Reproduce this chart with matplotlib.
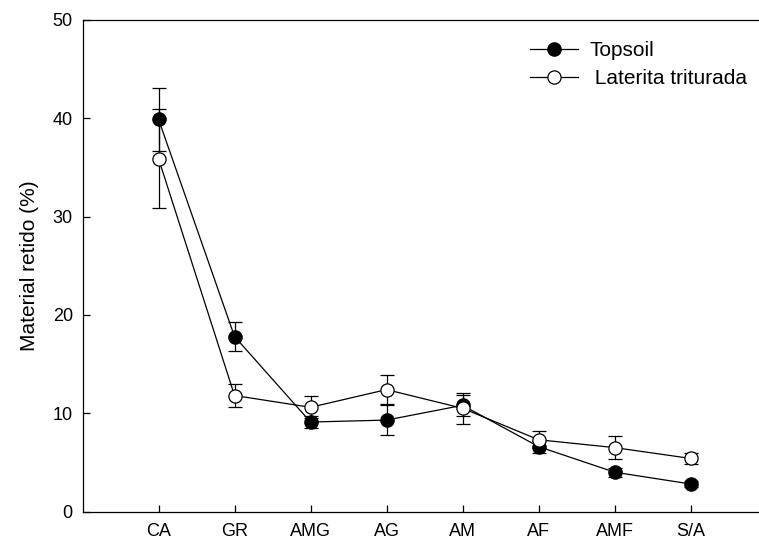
import numpy as np
import matplotlib.pyplot as plt
from matplotlib.lines import Line2D

plt.rcParams['font.family'] = ['Liberation Sans', 'DejaVu Sans']

# Size classes on the x axis
categories = ['CA', 'GR', 'AMG', 'AG', 'AM', 'AF', 'AMF', 'S/A']

# Retained material (%) and error bars
topsoil = [39.9, 17.8, 9.1, 9.3, 10.8, 6.6, 4.0, 2.8]
topsoil_err = [3.2, 1.5, 0.6, 1.5, 1.05, 0.6, 0.45, 0.3]
laterita = [35.9, 11.8, 10.6, 12.4, 10.5, 7.3, 6.5, 5.4]
laterita_err = [5.0, 1.2, 1.1, 1.5, 1.6, 0.85, 1.15, 0.6]

x = np.arange(1, len(categories) + 1)

fig = plt.figure(figsize=(7.59, 5.39), dpi=100)
ax = fig.add_axes([0.1087, 0.051, 0.8913, 0.912])

# Topsoil (filled circles)
ax.errorbar(x, topsoil, yerr=topsoil_err, fmt='-o', color='black',
            mfc='black', mec='black', ms=9.5, lw=0.9, elinewidth=0.9,
            capsize=4.7, capthick=0.9, zorder=3)

# Laterita (open circles)
ax.errorbar(x, laterita, yerr=laterita_err, fmt='-o', color='black',
            mfc='white', mec='black', ms=9.5, mew=0.9, lw=0.9,
            elinewidth=0.9, capsize=4.7, capthick=0.9, zorder=4)

ax.set_xlim(0, 8.9)
ax.set_ylim(0, 50)
ax.set_xticks(x)
ax.set_xticklabels(categories)
ax.set_yticks(np.arange(0, 51, 10))

ax.tick_params(axis='both', direction='in', length=5, width=0.9,
               labelsize=13)
ax.tick_params(axis='x', pad=8)
ax.tick_params(axis='y', pad=7)

ax.set_ylabel('Material retido (%)', fontsize=15, labelpad=10)

# Remove right spine only
ax.spines['right'].set_visible(False)
for s in ['left', 'bottom', 'top']:
    ax.spines[s].set_linewidth(0.9)

# Legend without error bars in the handles
handles = [
    Line2D([], [], color='black', lw=0.9, marker='o', ms=9.5,
           mfc='black', mec='black'),
    Line2D([], [], color='black', lw=0.9, marker='o', ms=9.5,
           mfc='white', mec='black', mew=0.9),
]
ax.legend(handles, ['Topsoil', ' Laterita triturada'],
          loc='upper left', bbox_to_anchor=(530 / 759, 1 - 41 / 539),
          bbox_transform=fig.transFigure, frameon=False, fontsize=15,
          handlelength=2.3, handletextpad=0.55, borderpad=0,
          borderaxespad=0, labelspacing=0.45)

fig.savefig('out.png', dpi=100)
